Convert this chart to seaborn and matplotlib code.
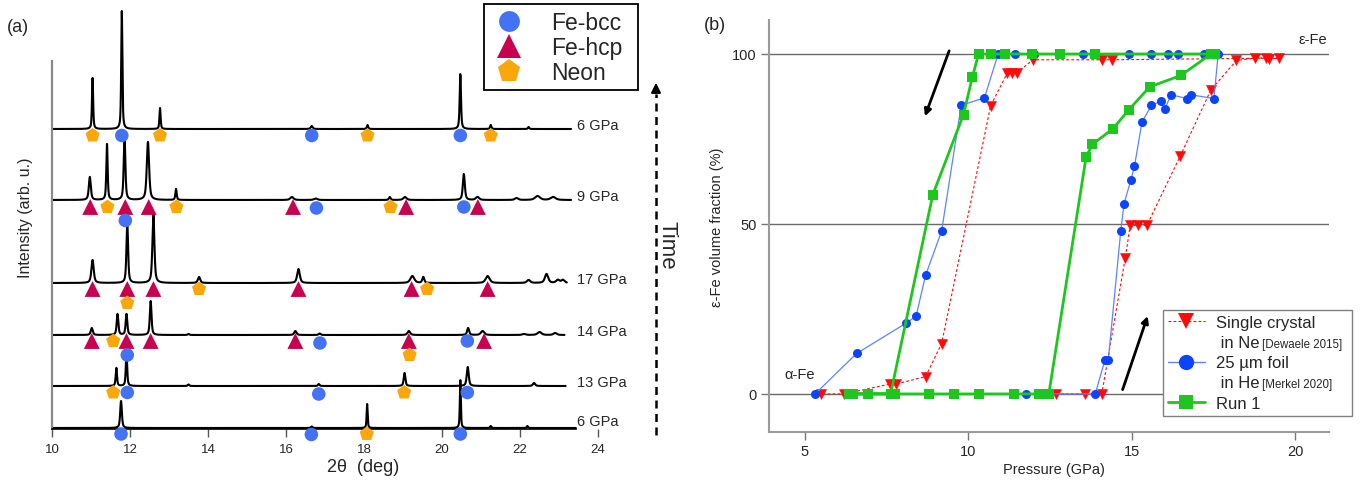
import numpy as np
import pandas as pd
import matplotlib
matplotlib.use("Agg")
import matplotlib.pyplot as plt
from matplotlib.lines import Line2D
import seaborn as sns

# ---------------- (a) powder diffraction patterns ----------------
# peaks: (2theta in deg, height in arb. units, FWHM in deg)
peaks_6a = [(11.04, 51, .035), (11.79, 118, .035), (12.77, 21, .035), (16.66, 3, .06),
            (18.09, 4, .04), (20.47, 55, .04), (21.25, 4, .04), (22.22, 2, .04)]
peaks_9 = [(10.97, 23, .06), (11.41, 56, .04), (11.86, 63, .05), (12.46, 58, .07),
           (13.18, 11, .04), (16.15, 3, .1), (16.76, 1.5, .1), (18.66, 3, .05),
           (19.05, 3, .1), (20.56, 26, .06), (20.91, 3, .1), (21.91, 2, .1),
           (22.45, 4, .15), (22.85, 3, .15)]
peaks_17 = [(11.04, 23, .07), (11.93, 60, .05), (12.60, 69, .06), (13.77, 6, .07),
            (16.32, 14, .08), (19.24, 7, .12), (19.52, 6, .06), (21.17, 7, .12),
            (22.22, 3, .1), (22.68, 9, .1), (22.97, 3, .1), (23.10, 3, .1)]
peaks_14 = [(11.02, 7, .06), (11.68, 21, .05), (11.91, 21, .05), (12.53, 34, .05),
            (13.50, 1, .05), (16.24, 4, .07), (16.86, 1.5, .06), (19.15, 4, .08),
            (20.67, 7, .06), (21.04, 4, .1), (22.10, 1, .1), (22.50, 3, .12), (22.90, 2, .1)]
peaks_13 = [(11.65, 18, .04), (11.91, 35, .04), (13.50, 1.5, .05), (16.84, 2, .05),
            (19.04, 13, .05), (20.66, 19, .06), (22.36, 3, .07)]
peaks_6b = [(11.77, 27, .05), (16.66, 1.5, .05), (18.08, 24, .03), (20.47, 48, .03),
            (21.25, 2, .04), (22.19, 2, .04)]

pattern_labels = ["6 GPa", "9 GPa", "17 GPa", "14 GPa", "13 GPa", "6 GPa"]
pattern_offsets = [300, 229, 146, 94, 43, 1]
pattern_ends = [23.31, 23.31, 23.20, 23.14, 23.17, 23.43]
pattern_peaks = [peaks_6a, peaks_9, peaks_17, peaks_14, peaks_13, peaks_6b]

# indexed reflections: (phase, 2theta, vertical offset from the pattern baseline)
marks_6a = [("Neon", 11.04, -6.5), ("Fe-bcc", 11.79, -6.5), ("Neon", 12.77, -6.5),
            ("Fe-bcc", 16.66, -6.5), ("Neon", 18.09, -6.5), ("Fe-bcc", 20.47, -6.5),
            ("Neon", 21.25, -6.5)]
marks_9 = [("Fe-hcp", 10.98, -7), ("Neon", 11.42, -7), ("Fe-hcp", 11.88, -7),
           ("Fe-hcp", 12.48, -7), ("Neon", 13.19, -7), ("Fe-hcp", 16.18, -7),
           ("Fe-bcc", 16.78, -8), ("Neon", 18.68, -7), ("Fe-hcp", 19.08, -7),
           ("Fe-bcc", 20.56, -7), ("Fe-hcp", 20.92, -7), ("Fe-bcc", 11.88, -20.5)]
marks_17 = [("Fe-hcp", 11.04, -6), ("Fe-hcp", 11.93, -6), ("Fe-hcp", 12.60, -6),
            ("Neon", 13.77, -6), ("Fe-hcp", 16.32, -6), ("Fe-hcp", 19.22, -6),
            ("Neon", 19.62, -6), ("Fe-hcp", 21.17, -6), ("Neon", 11.93, -20)]
marks_14 = [("Fe-hcp", 11.02, -6), ("Neon", 11.57, -6), ("Fe-hcp", 11.91, -6),
            ("Fe-hcp", 12.53, -6), ("Fe-hcp", 16.24, -6), ("Fe-bcc", 16.87, -8),
            ("Fe-hcp", 19.15, -6), ("Fe-bcc", 20.65, -6), ("Fe-hcp", 21.08, -6),
            ("Fe-bcc", 11.93, -20), ("Neon", 19.17, -20)]
marks_13 = [("Neon", 11.57, -6.5), ("Fe-bcc", 11.93, -6.5), ("Fe-bcc", 16.84, -8),
            ("Neon", 19.03, -6.5), ("Fe-bcc", 20.65, -6.5)]
marks_6b = [("Fe-bcc", 11.77, -6), ("Fe-bcc", 16.65, -6.5), ("Neon", 18.07, -6),
            ("Fe-bcc", 20.47, -6)]
pattern_marks = [marks_6a, marks_9, marks_17, marks_14, marks_13, marks_6b]

phases = ["Fe-bcc", "Fe-hcp", "Neon"]
phase_colors = {"Fe-bcc": "#4373F4", "Fe-hcp": "#C9004F", "Neon": "#FBA60A"}
phase_markers = {"Fe-bcc": "o", "Fe-hcp": "^", "Neon": "p"}
phase_sizes = {"Fe-bcc": 95, "Fe-hcp": 130, "Neon": 115}
two_theta_ticks = [10, 12, 14, 16, 18, 20, 22, 24]

# ---------------- (b) epsilon-Fe volume fraction vs pressure ----------------
p_dewaele = [12.68, 13.58, 14.08, 14.80, 14.95, 15.18, 15.46, 16.48, 17.42, 18.20,
             18.78, 19.11, 19.20, 19.50, 14.40, 14.10, 11.97, 11.48, 11.32, 11.19,
             10.68, 9.18, 8.69, 7.78, 7.60, 6.19, 5.49]
v_dewaele = [0, 0, 0, 40.1, 49.6, 49.6, 49.6, 70.0, 89.5, 98.1,
             98.8, 98.8, 98.5, 98.8, 98.3, 98.3, 98.3, 94.4, 94.4, 94.4,
             84.8, 14.8, 5.1, 2.9, 2.9, 0, 0]
p_merkel = [11.76, 13.88, 14.18, 14.28, 14.66, 14.76, 14.97, 15.08, 15.31, 15.60,
            15.89, 16.01, 16.20, 16.69, 16.80, 17.51, 17.64, 17.22, 16.40, 16.10,
            15.60, 14.90, 13.50, 12.02, 11.42, 10.91, 10.49, 9.78, 9.18, 8.69,
            8.40, 8.09, 6.58, 5.31]
v_merkel = [0, 0, 10.1, 10.1, 47.9, 56.0, 62.9, 67.0, 80.0, 84.9,
            86.1, 83.9, 88.0, 86.9, 88.0, 86.9, 100, 100, 100, 100,
            100, 100, 100, 100, 100, 100, 87.1, 84.9, 47.9, 34.9,
            22.9, 20.8, 11.9, 0]
p_run1 = [6.36, 6.94, 7.75, 8.80, 9.57, 10.32, 11.38, 12.17, 12.46, 13.60,
          13.79, 14.42, 14.90, 15.54, 16.50, 17.42, 17.55, 13.86, 12.80, 11.93,
          11.12, 10.70, 10.31, 10.12, 9.85, 8.91, 7.62, 6.46]
v_run1 = [0, 0, 0, 0, 0, 0, 0, 0, 0, 69.7,
          73.4, 78.0, 83.5, 90.3, 93.7, 100, 100, 100, 100, 100,
          100, 100, 100, 93.2, 82.2, 58.6, 0, 0]
pressure_ticks = [5, 10, 15, 20]
fraction_ticks = [0, 50, 100]

series_labels = ["Single crystal", " in Ne", "25 µm foil", " in He", "Run 1"]
series_refs = ["[Dewaele 2015]", "[Merkel 2020]"]

# ---------------- style ----------------
sns.set_theme(style="white")
plt.rcParams["font.family"] = ["Liberation Sans", "DejaVu Sans"]

W, H = 1365, 481
fig = plt.figure(figsize=(W / 100, H / 100), dpi=100)
ax1 = fig.add_axes([52 / W, 51 / H, 557.7 / W, 425 / H])
ax2 = fig.add_axes([769 / W, 48 / H, 560 / W, 412 / H])


def profile(peaks, x):
    y = np.zeros_like(x)
    for c, h, w in peaks:
        u = (x - c) / (w / 2)
        y += h * (0.6 / (1 + u ** 2) + 0.4 * np.exp(-np.log(2) * u ** 2))
    return y


# ---- panel (a)
rows = []
for label, base, end, peaks, marks in zip(pattern_labels, pattern_offsets, pattern_ends,
                                          pattern_peaks, pattern_marks):
    x = np.linspace(10.0, end, 7000)
    trace = pd.DataFrame({"two_theta": x, "intensity": base + profile(peaks, x)})
    sns.lineplot(data=trace, x="two_theta", y="intensity", ax=ax1, color="black",
                 lw=1.5, estimator=None, sort=False)
    for phase, pos, dy in marks:
        rows.append({"phase": phase, "two_theta": pos, "intensity": base + dy})
    dy_lab = 7 if base < 10 else 4
    ax1.text(23.45, base + dy_lab, label, ha="left", va="center", fontsize=10.5)

marks_df = pd.DataFrame(rows)
sns.scatterplot(data=marks_df, x="two_theta", y="intensity", hue="phase", style="phase",
                size="phase", palette=phase_colors, markers=phase_markers,
                sizes=phase_sizes, hue_order=phases, linewidth=0, legend=False,
                ax=ax1, clip_on=False, zorder=4)

ax1.set_xlim(10, 24.3)
ax1.set_ylim(0, 425)
ax1.set_xticks(two_theta_ticks)
ax1.set_yticks([])
ax1.tick_params(axis="x", direction="out", length=6, width=1, color="#555555",
                labelsize=9.5, pad=4, bottom=True)
for side in ("top", "right"):
    ax1.spines[side].set_visible(False)
ax1.spines["left"].set_color("#8a8a8a")
ax1.spines["left"].set_linewidth(1.6)
ax1.spines["left"].set_bounds(0, 368)
ax1.spines["bottom"].set_color("black")
ax1.spines["bottom"].set_linewidth(1.2)
ax1.spines["bottom"].set_bounds(10, 23.43)
ax1.set_xlabel("2θ  (deg)", fontsize=13)
ax1.xaxis.set_label_coords(0.557, -0.068)
ax1.set_ylabel("Intensity (arb. u.)", fontsize=11.5)
ax1.yaxis.set_label_coords(-0.034, 0.5)

leg_handles = [Line2D([], [], ls="none", marker=phase_markers[p], color=phase_colors[p],
                      markersize=15 if p == "Fe-bcc" else 17, mew=0) for p in phases]
leg1 = fig.legend(leg_handles, phases, loc="upper left", mode="expand",
                  bbox_to_anchor=(484 / W, 1 - 90 / H, 154 / W, 85 / H),
                  fontsize=16.5, frameon=True, fancybox=False, edgecolor="black",
                  framealpha=1, borderpad=0.3, labelspacing=0.08, handlelength=1.6,
                  handletextpad=1.05, borderaxespad=0)
leg1.get_frame().set_linewidth(1.3)

# time arrow
fig.add_artist(Line2D([656 / W, 656 / W], [1 - 436 / H, 1 - 95 / H],
                      transform=fig.transFigure, color="black", lw=1.8,
                      ls=(0, (3.2, 2.2))))
ax1.annotate("", xy=(656 / W, 1 - 81 / H), xytext=(656 / W, 1 - 97 / H),
             xycoords="figure fraction", textcoords="figure fraction",
             annotation_clip=False,
             arrowprops=dict(arrowstyle="-|>", color="black", lw=1.5, mutation_scale=14))
fig.text(667 / W, 1 - 245 / H, "Time", rotation=270, ha="center", va="center",
         fontsize=16)
fig.text(18 / W, 1 - 28 / H, "(a)", ha="center", va="center", fontsize=13)

# ---- panel (b)
red, blue, blue_line, green = "#FF0A0A", "#0A44FF", "#5F83FF", "#1DC71D"
sns.lineplot(x=p_dewaele, y=v_dewaele, ax=ax2, sort=False, estimator=None, color=red,
             lw=0.8, ls=(0, (2.5, 2)), marker="v", markersize=7.5, mec=red, mew=0.4,
             zorder=3)
sns.lineplot(x=p_merkel, y=v_merkel, ax=ax2, sort=False, estimator=None,
             color=blue_line, lw=0.9, marker="o", markersize=6.5, mfc=blue, mec=blue,
             mew=0, zorder=4)
sns.lineplot(x=p_run1, y=v_run1, ax=ax2, sort=False, estimator=None, color=green,
             lw=2.0, marker="s", markersize=6.5, mec=green, mew=0, zorder=5)

ax2.set_xlim(3.9, 21.03)
ax2.set_ylim(-11.2, 110)
ax2.set_xticks(pressure_ticks)
ax2.set_yticks(fraction_ticks)
ax2.grid(axis="y", color="#6a6a6a", lw=1)
ax2.grid(axis="x", visible=False)
ax2.set_axisbelow(True)
for side in ("top", "right"):
    ax2.spines[side].set_visible(False)
for side in ("left", "bottom"):
    ax2.spines[side].set_color("#9a9a9a")
    ax2.spines[side].set_linewidth(1.5)
ax2.tick_params(axis="both", direction="out", length=6, width=1, color="#777777",
                labelsize=10.5, pad=3, bottom=True, left=True)
ax2.set_xlabel("Pressure (GPa)", fontsize=10.5)
ax2.xaxis.set_label_coords(0.509, -0.073)
ax2.set_ylabel("ε-Fe volume fraction (%)", fontsize=10.5)
ax2.yaxis.set_label_coords(-0.080, 0.5)

ax2.annotate("", xy=(8.64, 80.9), xytext=(9.44, 101.7),
             arrowprops=dict(arrowstyle="-|>", color="black", lw=2, mutation_scale=10))
ax2.annotate("", xy=(15.51, 23.7), xytext=(14.69, 0.5),
             arrowprops=dict(arrowstyle="-|>", color="black", lw=2, mutation_scale=10))
ax2.text(20.98, 104.5, "ε-Fe", ha="right", va="center", fontsize=10.5)
ax2.text(4.85, 6.0, "α-Fe", ha="center", va="center", fontsize=10.5)
fig.text(715 / W, 1 - 25 / H, "(b)", ha="center", va="center", fontsize=13)

empty = Line2D([], [], ls="none")
h_dew = Line2D([], [], color=red, lw=0.8, ls=(0, (2.5, 2)), marker="v", markersize=12,
               mec=red, mew=0)
h_mer = Line2D([], [], color=blue_line, lw=1.0, marker="o", markersize=11, mfc=blue,
               mec=blue, mew=0)
h_run = Line2D([], [], color=green, lw=2.0, marker="s", markersize=10, mec=green, mew=0)
leg_fs = 12
leg2 = fig.legend([h_dew, empty, h_mer, empty, h_run], series_labels,
                  loc="upper left", mode="expand",
                  bbox_to_anchor=(1163 / W, 1 - 418 / H, 189 / W, 107 / H),
                  fontsize=leg_fs, frameon=True, fancybox=False, edgecolor="#808080",
                  framealpha=1, borderpad=0.3, labelspacing=0.31, handlelength=2.2,
                  handletextpad=0.65, borderaxespad=0)
leg2.get_frame().set_linewidth(1.0)

# citations written after the second line of each two-line entry
fig.canvas.draw()
for txt, ref in zip([leg2.get_texts()[1], leg2.get_texts()[3]], series_refs):
    bb = txt.get_window_extent()
    fig.text((bb.x1 + 3) / W, (bb.y0 + 0.5) / H, ref, fontsize=8.3, ha="left",
             va="bottom", zorder=10)

fig.savefig("out.png", dpi=100)
